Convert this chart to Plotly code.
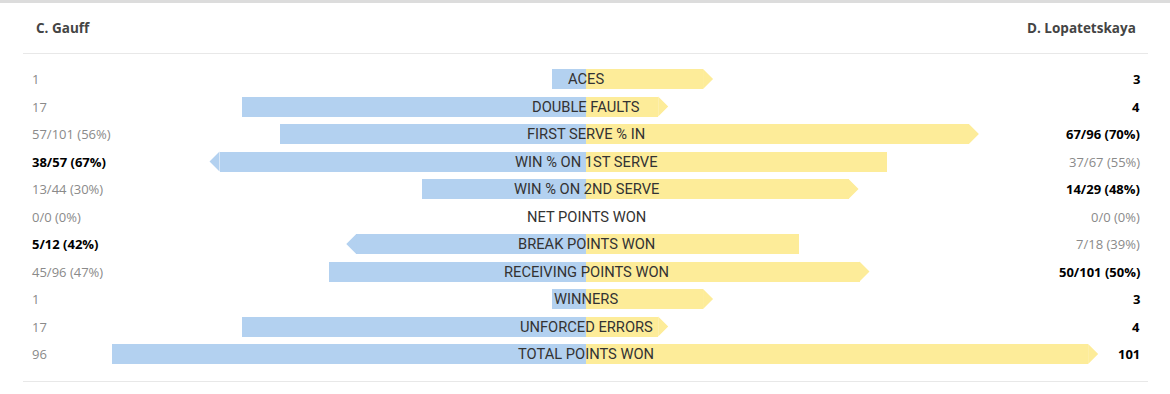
import plotly.graph_objects as go

# ---- data ----
player_left = "C. Gauff"
player_right = "D. Lopatetskaya"
stats = ["ACES", "DOUBLE FAULTS", "FIRST SERVE % IN", "WIN % ON 1ST SERVE",
         "WIN % ON 2ND SERVE", "NET POINTS WON", "BREAK POINTS WON",
         "RECEIVING POINTS WON", "WINNERS", "UNFORCED ERRORS", "TOTAL POINTS WON"]
left_text = ["1", "17", "57/101 (56%)", "38/57 (67%)", "13/44 (30%)", "0/0 (0%)",
             "5/12 (42%)", "45/96 (47%)", "1", "17", "96"]
right_text = ["3", "4", "67/96 (70%)", "37/67 (55%)", "14/29 (48%)", "0/0 (0%)",
              "7/18 (39%)", "50/101 (50%)", "3", "4", "101"]
# bar lengths as share of the half-width
left_bar = [6.2, 62.9, 56, 67, 30, 0, 42, 47, 6.2, 62.9, 86.7]
right_bar = [21.4, 13.2, 70, 55, 48, 0, 39, 50, 21.4, 13.2, 91.8]
# which side is better in each row ("L", "R" or "")
better = ["R", "R", "R", "L", "R", "", "L", "R", "R", "R", "R"]

BLUE = "#b3d1f0"
YELLOW = "#fdec99"
GREY = "#8a8a8a"
FONT_VAL = "'Open Sans', Lato, sans-serif"
FONT_LBL = "Roboto, sans-serif"

W, H = 1170, 394
CX = 586          # centre pixel
PX_PER = 5.47     # pixels per unit
ROW0, ROWSTEP = 79, 27.5
BAR_H = 20 / ROWSTEP
TIP = 10 / PX_PER

ys = list(range(len(stats)))

fig = go.Figure()
fig.add_trace(go.Bar(y=ys, x=[-v for v in left_bar], orientation="h", base=0,
                     marker=dict(color=BLUE, line=dict(width=0)), width=BAR_H,
                     hoverinfo="skip"))
fig.add_trace(go.Bar(y=ys, x=right_bar, orientation="h", base=0,
                     marker=dict(color=YELLOW, line=dict(width=0)), width=BAR_H,
                     hoverinfo="skip"))

# arrow tips on the better side
for side, colour in (("L", BLUE), ("R", YELLOW)):
    xs, yy = [], []
    for i, b in enumerate(better):
        if b != side:
            continue
        if side == "L":
            end = -left_bar[i]
            tip = end - TIP
        else:
            end = right_bar[i]
            tip = end + TIP
        xs += [end, tip, end, end, None]
        yy += [i - BAR_H / 2, i, i + BAR_H / 2, i - BAR_H / 2, None]
    fig.add_trace(go.Scatter(x=xs, y=yy, mode="lines", fill="toself",
                             fillcolor=colour, line=dict(width=0, color=colour),
                             hoverinfo="skip"))

ann = []
for i in ys:
    ann.append(dict(x=0, y=i, xref="x", yref="y", text=stats[i], showarrow=False,
                    font=dict(family=FONT_LBL, size=14.7, color="#333333"),
                    xanchor="center", yanchor="middle"))
    lb = better[i] == "L"
    rb = better[i] == "R"
    ann.append(dict(x=30 / W, y=i, xref="paper", yref="y",
                    text=f"<b>{left_text[i]}</b>" if lb else left_text[i],
                    showarrow=False,
                    font=dict(family=FONT_VAL, size=13, color="#000000" if lb else GREY),
                    xanchor="left", yanchor="middle"))
    ann.append(dict(x=1142 / W, y=i, xref="paper", yref="y",
                    text=f"<b>{right_text[i]}</b>" if rb else right_text[i],
                    showarrow=False,
                    font=dict(family=FONT_VAL, size=13, color="#000000" if rb else GREY),
                    xanchor="right", yanchor="middle"))

ann.append(dict(x=34 / W, y=1 - 28 / H, xref="paper", yref="paper",
                text=f"<b>{player_left}</b>", showarrow=False,
                font=dict(family=FONT_VAL, size=13.5, color="#444444"),
                xanchor="left", yanchor="middle"))
ann.append(dict(x=1138 / W, y=1 - 28 / H, xref="paper", yref="paper",
                text=f"<b>{player_right}</b>", showarrow=False,
                font=dict(family=FONT_VAL, size=13.5, color="#444444"),
                xanchor="right", yanchor="middle"))

shapes = [
    dict(type="line", xref="paper", yref="paper", x0=0, x1=1,
         y0=1 - 1.5 / H, y1=1 - 1.5 / H, line=dict(color="#dcdcdc", width=3)),
    dict(type="line", xref="paper", yref="paper", x0=23 / W, x1=1148 / W,
         y0=1 - 53.5 / H, y1=1 - 53.5 / H, line=dict(color="#e8e8e8", width=1)),
    dict(type="line", xref="paper", yref="paper", x0=23 / W, x1=1148 / W,
         y0=1 - 381.5 / H, y1=1 - 381.5 / H, line=dict(color="#e8e8e8", width=1)),
]

fig.update_layout(
    width=W, height=H, margin=dict(l=0, r=0, t=0, b=0),
    paper_bgcolor="white", plot_bgcolor="white",
    barmode="overlay", showlegend=False, bargap=0,
    xaxis=dict(range=[-CX / PX_PER, (W - CX) / PX_PER], visible=False, fixedrange=True),
    yaxis=dict(range=[(H - ROW0) / ROWSTEP, -ROW0 / ROWSTEP], visible=False, fixedrange=True),
    annotations=ann, shapes=shapes,
)

fig.write_html("out.html", config={"displayModeBar": False})
